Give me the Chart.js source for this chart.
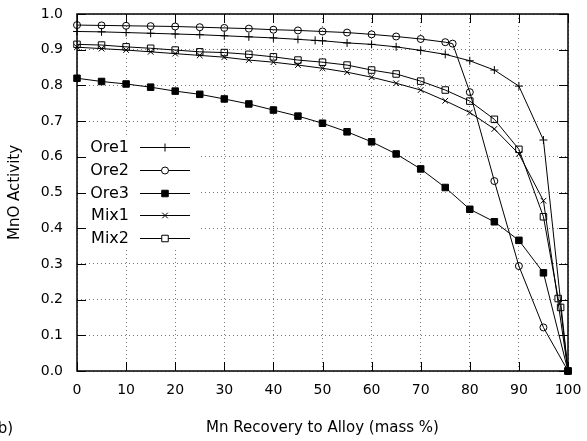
<!DOCTYPE html>
<html lang="en">
<head>
    <meta charset="UTF-8">
    <title>MnO Activity vs Mn Recovery</title>
    <script src="https://cdn.jsdelivr.net/npm/chart.js"></script>
    <style>
        html, body { margin: 0; padding: 0; background: #fff; }
        #wrap { width: 587px; height: 441px; }
    </style>
</head>
<body>
    <div id="wrap">
        <canvas id="activityChart" width="587" height="441"></canvas>
    </div>

    <script>
        // Mn recovery (mass %) where the curves were sampled
        let recovery = [0, 5, 10, 15, 20, 25, 30, 35, 40, 45, 50, 55, 60, 65, 70, 75, 80, 85, 90, 95, 100];
        let ore1Recovery = [0, 5, 10, 15, 20, 25, 30, 35, 40, 45, 48.5, 50, 55, 60, 65, 70, 75, 80, 85, 90, 95, 100];
        let ore2Recovery = [0, 5, 10, 15, 20, 25, 30, 35, 40, 45, 50, 55, 60, 65, 70, 75, 76.5, 80, 85, 90, 95, 100];
        let mix2Recovery = [0, 5, 10, 15, 20, 25, 30, 35, 40, 45, 50, 55, 60, 65, 70, 75, 80, 85, 90, 95, 98, 98.5, 100];

        // MnO activity
        let ore1 = [0.951, 0.950, 0.948, 0.946, 0.944, 0.942, 0.939, 0.936, 0.933, 0.929, 0.926, 0.925, 0.919, 0.915, 0.908, 0.898, 0.887, 0.869, 0.843, 0.798, 0.647, 0];
        let ore2 = [0.969, 0.968, 0.967, 0.966, 0.965, 0.963, 0.961, 0.959, 0.956, 0.954, 0.951, 0.948, 0.943, 0.937, 0.930, 0.921, 0.917, 0.781, 0.532, 0.294, 0.122, 0];
        let ore3 = [0.820, 0.811, 0.804, 0.795, 0.784, 0.775, 0.762, 0.748, 0.731, 0.714, 0.694, 0.670, 0.642, 0.608, 0.566, 0.514, 0.453, 0.418, 0.366, 0.275, 0];
        let mix1 = [0.907, 0.903, 0.899, 0.894, 0.889, 0.884, 0.879, 0.871, 0.865, 0.857, 0.848, 0.837, 0.823, 0.806, 0.787, 0.757, 0.724, 0.678, 0.608, 0.477, 0];
        let mix2 = [0.915, 0.913, 0.908, 0.904, 0.899, 0.894, 0.892, 0.887, 0.880, 0.871, 0.865, 0.857, 0.843, 0.832, 0.812, 0.787, 0.756, 0.705, 0.621, 0.432, 0.203, 0.178, 0];

        let xTicks = [0, 10, 20, 30, 40, 50, 60, 70, 80, 90, 100];
        let yTicks = [0, 0.1, 0.2, 0.3, 0.4, 0.5, 0.6, 0.7, 0.8, 0.9, 1.0];

        const FONT = "'DejaVu Sans', Verdana, sans-serif";

        function pairs(xs, ys) {
            return xs.map((x, i) => ({ x: x, y: ys[i] }));
        }

        function series(label, xs, ys, style, radius, fill) {
            return {
                label: label,
                data: pairs(xs, ys),
                borderColor: "#000",
                borderWidth: 1,
                pointStyle: style,
                pointRadius: radius,
                pointHoverRadius: radius,
                pointBorderWidth: 1,
                pointBorderColor: "#000",
                pointBackgroundColor: fill,
                backgroundColor: fill,
                tension: 0,
                fill: false,
                clip: false
            };
        }

        let datasets = [
            series("Ore1", ore1Recovery, ore1, "cross", 4, "rgba(0,0,0,0)"),
            series("Ore2", ore2Recovery, ore2, "circle", 3.5, "rgba(0,0,0,0)"),
            series("Ore3", recovery, ore3, "rect", 4.6, "#000"),
            series("Mix1", recovery, mix1, "crossRot", 4, "rgba(0,0,0,0)"),
            series("Mix2", mix2Recovery, mix2, "rect", 4.6, "rgba(0,0,0,0)")
        ];

        function drawMarker(ctx, ds, x, y) {
            let r = ds.pointRadius;
            ctx.save();
            ctx.lineWidth = 1;
            ctx.strokeStyle = "#000";
            ctx.beginPath();
            if (ds.pointStyle === "cross") {
                ctx.moveTo(x - r, y); ctx.lineTo(x + r, y);
                ctx.moveTo(x, y - r); ctx.lineTo(x, y + r);
                ctx.stroke();
            } else if (ds.pointStyle === "crossRot") {
                let d = r * Math.SQRT1_2;
                ctx.moveTo(x - d, y - d); ctx.lineTo(x + d, y + d);
                ctx.moveTo(x - d, y + d); ctx.lineTo(x + d, y - d);
                ctx.stroke();
            } else if (ds.pointStyle === "circle") {
                ctx.fillStyle = "#fff";
                ctx.arc(x, y, r, 0, Math.PI * 2);
                ctx.fill();
                ctx.stroke();
            } else {
                let s = r * Math.SQRT1_2;
                ctx.fillStyle = ds.pointBackgroundColor === "#000" ? "#000" : "#fff";
                ctx.rect(x - s, y - s, 2 * s, 2 * s);
                ctx.fill();
                ctx.stroke();
            }
            ctx.restore();
        }

        // gnuplot-like frame: key box, border and inward ticks
        const framePlugin = {
            id: "frame",
            afterDatasetsDraw(chart) {
                const ctx = chart.ctx;
                const area = chart.chartArea;
                const xs = chart.scales.x;
                const ys = chart.scales.y;

                // key
                ctx.save();
                ctx.fillStyle = "#fff";
                ctx.fillRect(area.left + 1, 137, 123, 113);
                ctx.font = "16px " + FONT;
                ctx.fillStyle = "#000";
                ctx.textAlign = "right";
                ctx.textBaseline = "middle";
                let rowY = [147, 170, 193, 215, 238];
                chart.data.datasets.forEach((ds, i) => {
                    let y = rowY[i];
                    ctx.fillText(ds.label, 129, y + 1);
                    ctx.beginPath();
                    ctx.strokeStyle = "#000";
                    ctx.lineWidth = 1;
                    ctx.moveTo(140, y + 0.5);
                    ctx.lineTo(190, y + 0.5);
                    ctx.stroke();
                    drawMarker(ctx, ds, 165, y + 0.5);
                });
                ctx.restore();

                // ticks
                ctx.save();
                ctx.strokeStyle = "#000";
                ctx.lineWidth = 1;
                ctx.beginPath();
                const len = 9;
                xTicks.forEach(v => {
                    let px = Math.round(xs.getPixelForValue(v)) + 0.5;
                    ctx.moveTo(px, area.bottom); ctx.lineTo(px, area.bottom - len);
                    ctx.moveTo(px, area.top); ctx.lineTo(px, area.top + len);
                });
                yTicks.forEach(v => {
                    let py = Math.round(ys.getPixelForValue(v)) + 0.5;
                    ctx.moveTo(area.left, py); ctx.lineTo(area.left + len, py);
                    ctx.moveTo(area.right, py); ctx.lineTo(area.right - len, py);
                });
                ctx.stroke();
                ctx.lineWidth = 1.5;
                ctx.strokeRect(area.left, area.top, area.right - area.left, area.bottom - area.top);
                ctx.restore();

                // panel tag, partly cut at the left edge
                ctx.save();
                ctx.font = "15px " + FONT;
                ctx.fillStyle = "#000";
                ctx.textAlign = "right";
                ctx.textBaseline = "middle";
                ctx.fillText("(b)", 13, 429);
                ctx.restore();
            }
        };

        let config = {
            type: "line",
            data: { datasets: datasets },
            options: {
                responsive: false,
                animation: false,
                devicePixelRatio: 1,
                layout: { padding: { top: 14, right: 19, left: 0, bottom: 0 } },
                plugins: {
                    legend: { display: false },
                    tooltip: { enabled: false }
                },
                scales: {
                    x: {
                        type: "linear",
                        min: 0,
                        max: 100,
                        afterFit: s => { s.height = 70; s.paddingLeft = 0; s.paddingRight = 0; },
                        afterBuildTicks: s => { s.ticks = xTicks.map(v => ({ value: v })); },
                        ticks: {
                            font: { family: FONT, size: 14 },
                            color: "#000",
                            padding: 11,
                            maxRotation: 0
                        },
                        grid: { color: "#777", drawTicks: false, lineWidth: 1 },
                        border: { display: false, dash: [1, 3] },
                        title: {
                            display: true,
                            text: "Mn Recovery to Alloy (mass %)",
                            color: "#000",
                            font: { family: FONT, size: 15 },
                            padding: { bottom: 4 }
                        }
                    },
                    y: {
                        type: "linear",
                        min: 0,
                        max: 1,
                        afterFit: s => { s.width = 77; s.paddingTop = 0; s.paddingBottom = 0; },
                        afterBuildTicks: s => { s.ticks = yTicks.map(v => ({ value: v })); },
                        ticks: {
                            font: { family: FONT, size: 14 },
                            color: "#000",
                            padding: 14,
                            callback: v => v.toFixed(1)
                        },
                        grid: { color: "#777", drawTicks: false, lineWidth: 1 },
                        border: { display: false, dash: [1, 3] },
                        title: {
                            display: true,
                            text: "MnO Activity",
                            color: "#000",
                            font: { family: FONT, size: 15 },
                            padding: { top: 6 }
                        }
                    }
                }
            },
            plugins: [framePlugin]
        };

        new Chart(document.getElementById("activityChart"), config);
    </script>
</body>
</html>
